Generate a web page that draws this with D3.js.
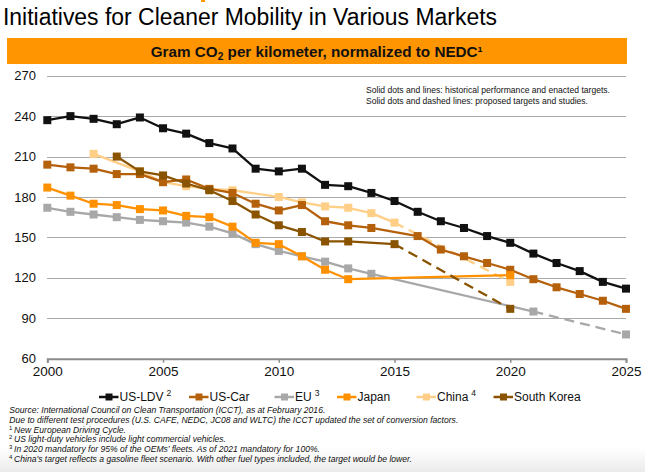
<!DOCTYPE html>
<html><head><meta charset="utf-8">
<script src="https://cdn.jsdelivr.net/npm/d3@7"></script>
<style>
html,body{margin:0;padding:0;background:#fff;}
svg{display:block;font-family:"Liberation Sans",Arial,sans-serif;}
</style></head>
<body>
<svg id="c" width="645" height="472"></svg>
<script>
// ---------- data ----------
const years = [2000,2001,2002,2003,2004,2005,2006,2007,2008,2009,2010,2011,2012,2013,2014,2015,2016,2017,2018,2019,2020,2021,2022,2023,2024,2025];
const usLdv  = [237,240,238,234,239,231,227,220,216,201,199,201,189,188,183,177,169,162,157,151,146,138,131,125,117,112];
const usCar  = [204,202,201,197,197,191,193,186,183,175,170,174,162,159,157,null,151,141,136,131,126,119,113,108,103,97];
const eu     = [172,169,167,165,163,162,161,158,153,145,140,136,132,127,123,null,null,null,null,null,null,95,null,null,null,78];
const japan  = [187,181,175,174,171,170,166,165,158,146,145,136,126,119,null,null,null,null,null,null,122,null,null,null,null,null];
const china  = [null,null,212,null,199,191,188,186,185,null,180,176,173,172,168,161,null,null,null,null,117,null,null,null,null,null];
const korea  = [null,null,null,210,199,196,190,185,177,167,159,154,147,147,null,145,null,null,null,null,97,null,null,null,null,null];
const seriesNames = ["US-LDV","US-Car","EU","Japan","China","South Korea"];
const seriesSup   = ["2","","3","","4",""];
const proposedFrom = [null,null,2021,null,2015,2015]; // dashed after this year
const yTicks = [60,90,120,150,180,210,240,270];
const xTicks = [2000,2005,2010,2015,2020,2025];
const title = "Initiatives for Cleaner Mobility in Various Markets";
const noteLines = ["Solid dots and lines: historical performance and enacted targets.",
                   "Solid dots and dashed lines: proposed targets and studies."];
const footnotes = [
  ["", "Source: International Council on Clean Transportation (ICCT), as at February 2016."],
  ["", "Due to different test procedures (U.S. CAFE, NEDC, JC08 and WLTC) the ICCT updated the set of conversion factors."],
  ["1", "New European Driving Cycle."],
  ["2", "US light-duty vehicles include light commercial vehicles."],
  ["3", "In 2020 mandatory for 95% of the OEMs\u2019 fleets. As of 2021 mandatory for 100%."],
  ["4", "China\u2019s target reflects a gasoline fleet scenario. With other fuel types included, the target would be lower."]
];

// ---------- styles / layout ----------
const allValues = [usLdv, usCar, eu, japan, china, korea];
const colors = ["#111111","#B5600A","#A8A8A8","#FF9100","#FFCF87","#8A5300"];
const drawOrder = [4,2,1,3,5,0];
const legendX = [99,189,274.5,337,416.5,493.5];
const footWidths = [316,449,112,212,306,398];

const svg = d3.select("#c");
const x = d3.scaleLinear().domain([2000,2025]).range([47.3,626]);
const y = d3.scaleLinear().domain([60,270]).range([358.7,75.7]);

// bottom gradient
const defs = svg.append("defs");
const gr = defs.append("linearGradient").attr("id","bg").attr("x1",0).attr("y1",0).attr("x2",0).attr("y2",1);
gr.append("stop").attr("offset","0%").attr("stop-color","#fff");
gr.append("stop").attr("offset","100%").attr("stop-color","#ebebeb");
svg.append("rect").attr("x",0).attr("y",448).attr("width",645).attr("height",24).attr("fill","url(#bg)");

// tiny orange mark at top
svg.append("rect").attr("x",201).attr("y",0).attr("width",4).attr("height",2).attr("fill","#FF9500");

// title
svg.append("text").attr("x",3).attr("y",24.5).attr("font-size",23.5)
  .attr("font-family","'Liberation Sans Narrow','Liberation Sans',Arial,sans-serif")
  .attr("textLength",494).attr("lengthAdjust","spacingAndGlyphs")
  .attr("fill","#000").text(title);

// banner
svg.append("rect").attr("x",7).attr("y",38).attr("width",620).attr("height",26).attr("fill","#FF9500");
const bt = svg.append("text").attr("x",150.7).attr("y",56.7)
  .attr("font-size",15).attr("font-weight","bold").attr("fill","#111")
  .attr("textLength",332).attr("lengthAdjust","spacingAndGlyphs");
bt.append("tspan").text("Gram CO");
bt.append("tspan").attr("font-size",10).attr("dy",3).text("2");
bt.append("tspan").attr("dy",-3).text(" per kilometer, normalized to NEDC\u00B9");

// gridlines
svg.append("g").selectAll("line").data(yTicks.filter(d=>d>60)).join("line")
  .attr("x1",47).attr("x2",626).attr("y1",d=>Math.round(y(d))+0.5).attr("y2",d=>Math.round(y(d))+0.5)
  .attr("stroke","#a9a9a9").attr("stroke-width",1);

// y labels
svg.append("g").selectAll("text").data(yTicks).join("text")
  .attr("x",36).attr("y",d=>y(d)+4.6).attr("text-anchor","end")
  .attr("font-size",13).attr("fill","#111").text(d=>d);

// x axis
const xa = svg.append("g").attr("transform",`translate(0,${y(60)})`)
  .call(d3.axisBottom(x).tickValues(xTicks).tickFormat(d3.format("d")).tickSize(4).tickPadding(4));
xa.select(".domain").attr("stroke","#8c8c8c").attr("stroke-width",2);
xa.selectAll(".tick line").attr("stroke","#8c8c8c").attr("stroke-width",1.5);
xa.selectAll(".tick text").attr("font-size",13.5).attr("fill","#111")
  .attr("font-family","'Liberation Sans',Arial,sans-serif");

// note
svg.append("g").selectAll("text").data(noteLines).join("text")
  .attr("x",366).attr("y",(d,i)=>92.5+i*11.3).attr("font-size",9.5).attr("fill","#111")
  .attr("textLength",(d,i)=>i===0?244:222).attr("lengthAdjust","spacingAndGlyphs")
  .text(d=>d);

// series
const line = d3.line().x(d=>x(d.year)).y(d=>y(d.v));
const plot = svg.append("g");
drawOrder.forEach(si=>{
  const pts = years.map((yr,i)=>({year:yr,v:allValues[si][i]})).filter(d=>d.v!==null);
  const pf = proposedFrom[si];
  const solid = pf===null ? pts : pts.filter(d=>d.year<=pf);
  const dashed = pf===null ? [] : pts.filter(d=>d.year>=pf);
  const g = plot.append("g");
  g.append("path").attr("d",line(solid)).attr("fill","none")
    .attr("stroke",colors[si]).attr("stroke-width",2.3).attr("stroke-linejoin","round");
  if(dashed.length>1){
    g.append("path").attr("d",line(dashed)).attr("fill","none")
      .attr("stroke",colors[si]).attr("stroke-width",2.3).attr("stroke-dasharray","10,6");
  }
  g.selectAll("rect").data(pts).join("rect")
    .attr("x",d=>x(d.year)-4).attr("y",d=>y(d.v)-4).attr("width",8).attr("height",8)
    .attr("fill",colors[si]);
});

// legend
const lg = svg.append("g");
seriesNames.forEach((n,i)=>{
  const lx = legendX[i], ly = 397;
  lg.append("line").attr("x1",lx).attr("x2",lx+19.5).attr("y1",ly).attr("y2",ly)
    .attr("stroke",colors[i]).attr("stroke-width",2.5);
  lg.append("rect").attr("x",lx+6.5).attr("y",ly-3.5).attr("width",7).attr("height",7).attr("fill",colors[i]);
  const t = lg.append("text").attr("x",lx+20.5).attr("y",ly+4.3).attr("font-size",12).attr("fill","#111");
  t.append("tspan").text(n);
  if(seriesSup[i]){
    t.append("tspan").attr("dx",3).attr("dy",-5.5).attr("font-size",8.5).text(seriesSup[i]);
  }
});

// footnotes
const fg = svg.append("g").attr("font-style","italic").attr("fill","#111");
footnotes.forEach((f,i)=>{
  const by = 413.3 + i*9.7;
  if(f[0]){
    fg.append("text").attr("x",9).attr("y",by-3).attr("font-size",6).attr("font-style","normal").text(f[0]);
  }
  fg.append("text").attr("x",f[0]?14:9.3).attr("y",by).attr("font-size",9.3)
    .attr("textLength",footWidths[i]).attr("lengthAdjust","spacingAndGlyphs").text(f[1]);
});
</script>
</body></html>
